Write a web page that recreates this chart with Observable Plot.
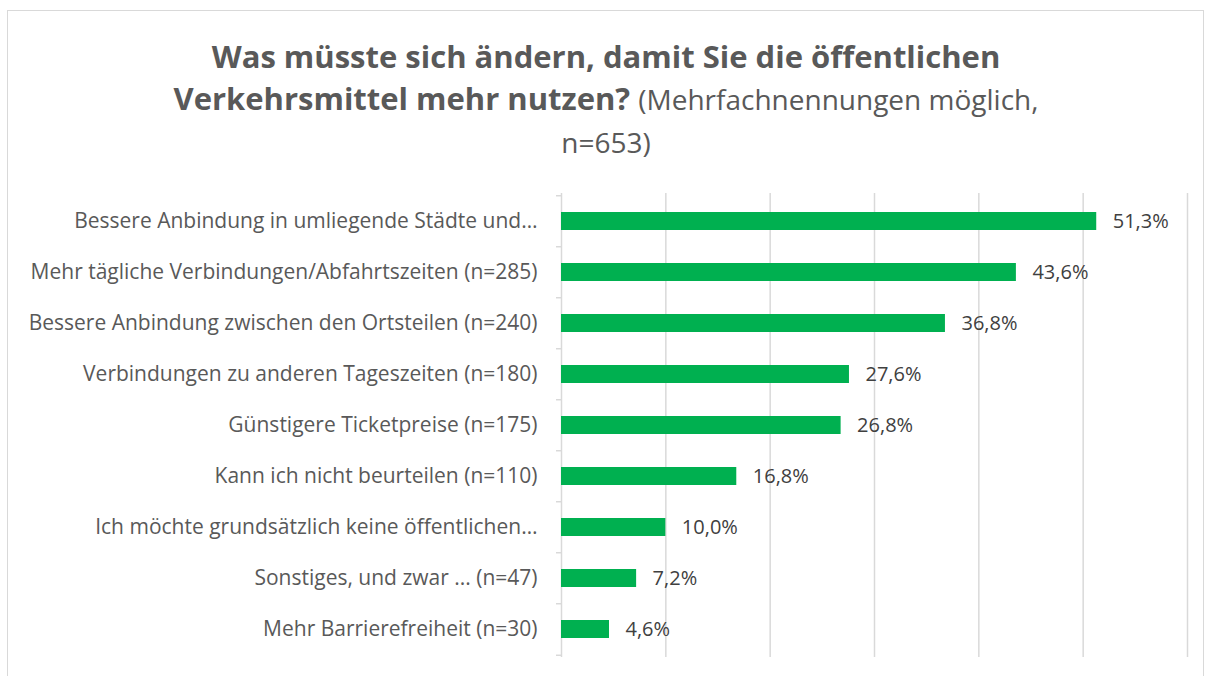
<!DOCTYPE html>
<html><head><meta charset="utf-8">
<script src="https://cdn.jsdelivr.net/npm/d3@7"></script>
<script src="https://cdn.jsdelivr.net/npm/@observablehq/plot@0.6"></script>
<style>
body{margin:0;background:#fff;font-family:"Open Sans",sans-serif;}
#frame{position:absolute;left:7px;top:10px;width:1197px;height:680px;border:1px solid #d9d9d9;box-sizing:border-box;}
#title{position:absolute;left:0;top:35px;width:1212px;text-align:center;color:#595959;font-size:31px;line-height:42px;}
#title b{font-weight:700;}
#title span{font-size:28px;font-weight:400;}
#chart{position:absolute;left:0;top:170px;}
</style></head>
<body>
<div id="frame"></div>
<div id="title"><b>Was müsste sich ändern, damit Sie die öffentlichen<br>Verkehrsmittel mehr nutzen?</b> <span>(Mehrfachnennungen möglich,<br>n=653)</span></div>
<div id="chart"></div>
<script>
const categories = [
  "Bessere Anbindung in umliegende Städte und…",
  "Mehr tägliche Verbindungen/Abfahrtszeiten (n=285)",
  "Bessere Anbindung zwischen den Ortsteilen (n=240)",
  "Verbindungen zu anderen Tageszeiten (n=180)",
  "Günstigere Ticketpreise (n=175)",
  "Kann ich nicht beurteilen (n=110)",
  "Ich möchte grundsätzlich keine öffentlichen…",
  "Sonstiges, und zwar ... (n=47)",
  "Mehr Barrierefreiheit (n=30)"
];
const values = [0.513, 0.436, 0.368, 0.276, 0.268, 0.168, 0.100, 0.072, 0.046];
const xTicks = [0, 0.1, 0.2, 0.3, 0.4, 0.5, 0.6];

const data = categories.map((c, i) => ({category: c, value: values[i]}));
const H = 500, mT = 23, mB = 13;
const step = (H - mT - mB) / categories.length;
const fmt = v => (v * 100).toFixed(1).replace(".", ",") + "%";

const chart = Plot.plot({
  width: 1212, height: H,
  marginLeft: 561, marginRight: 25, marginTop: mT, marginBottom: mB,
  style: {fontFamily: "'Open Sans', sans-serif", fontSize: "17px", color: "#595959", background: "transparent"},
  x: {domain: [0, 0.6], axis: null},
  y: {domain: categories, paddingInner: 0.65, paddingOuter: 0.325, label: null},
  marks: [
    Plot.ruleX(xTicks, {stroke: "#d9d9d9", strokeWidth: 1.5}),
    Plot.ruleY(categories, {y: d => d, x1: -0.0048, x2: 0, dy: -step / 2, stroke: "#d9d9d9", strokeWidth: 1.5}),
    Plot.ruleY(categories.slice(-1), {y: d => d, x1: -0.0048, x2: 0, dy: step / 2, stroke: "#d9d9d9", strokeWidth: 1.5}),
    Plot.barX(data, {x: "value", y: "category", fill: "#00b050"}),
    Plot.text(data, {x: "value", y: "category", text: d => fmt(d.value), textAnchor: "start", dx: 16, fill: "#404040", fontSize: 20}),
    Plot.axisY({tickSize: 0, tickPadding: 24, fontSize: 21, fill: "#595959", label: null})
  ]
});
document.getElementById("chart").appendChild(chart);
</script>
</body></html>
